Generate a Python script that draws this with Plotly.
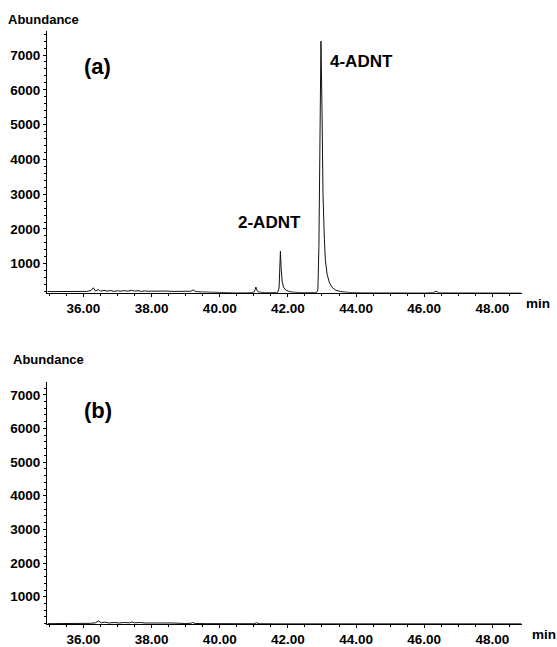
import plotly.graph_objects as go

# ---- data: chromatogram (a) ----
time_a = [34.95, 35.3, 35.6, 35.9, 36.1, 36.22, 36.29, 36.35, 36.40, 36.45, 36.50, 36.6, 36.7, 36.8,
          36.9, 37.0, 37.1, 37.2, 37.3, 37.4, 37.5, 37.6, 37.7, 37.8, 37.9, 38.0, 38.2, 38.4, 38.6,
          38.8, 39.0, 39.15, 39.22, 39.3, 39.45, 39.7, 40.0, 40.4, 40.8, 41.00, 41.04, 41.06, 41.09,
          41.13, 41.3, 41.5, 41.70, 41.74, 41.76, 41.78, 41.80, 41.83, 41.87, 41.93, 42.02, 42.12,
          42.4, 42.7, 42.84, 42.88, 42.91, 42.94, 42.97, 43.00, 43.03, 43.07, 43.10, 43.15, 43.22,
          43.30, 43.40, 43.55, 43.8, 44.2, 44.8, 45.4, 46.0, 46.25, 46.35, 46.45, 47.0, 47.6, 48.2, 48.85]
abund_a = [200, 195, 200, 195, 205, 230, 310, 215, 240, 260, 210, 235, 215, 230,
           205, 225, 210, 230, 210, 235, 215, 225, 205, 220, 210, 215, 205, 215, 205,
           210, 200, 210, 250, 200, 190, 180, 170, 165, 165, 180, 260, 330, 240,
           190, 170, 165, 175, 300, 900, 1360, 900, 500, 330, 250, 210, 185,
           170, 165, 175, 250, 1500, 4500, 7400, 5500, 3000, 1700, 1100, 700, 450,
           320, 240, 200, 175, 165, 160, 160, 160, 170, 205, 165, 160, 158, 158, 158]

# ---- data: chromatogram (b) ----
time_b = [34.95, 35.4, 35.9, 36.2, 36.35, 36.44, 36.52, 36.62, 36.75, 36.9, 37.05, 37.2, 37.35,
          37.41, 37.5, 37.65, 37.8, 38.0, 38.3, 38.6, 39.0, 39.15, 39.2, 39.28, 39.6, 40.0, 40.5,
          41.0, 41.08, 41.16, 41.6, 42.2, 43.0, 44.0, 45.0, 46.2, 46.3, 46.4, 47.2, 48.0, 48.85]
abund_b = [200, 200, 205, 210, 225, 280, 225, 245, 220, 235, 220, 235, 225,
           250, 225, 235, 220, 225, 215, 220, 205, 210, 235, 205, 200, 198, 196,
           198, 225, 198, 195, 195, 195, 195, 195, 195, 210, 195, 195, 195, 195]

y_ticks = [1000, 2000, 3000, 4000, 5000, 6000, 7000]
x_ticks = [36, 38, 40, 42, 44, 46, 48]
x_labels = ["36.00", "38.00", "40.00", "42.00", "44.00", "46.00", "48.00"]
peak_labels = ["2-ADNT", "4-ADNT"]
peak_pos_x = [41.47, 44.16]
peak_pos_y = [2190, 6800]

W, H = 557, 647
FONT = "Liberation Sans, Arial, Helvetica, sans-serif"

fig = go.Figure()
fig.add_trace(go.Scatter(x=time_a, y=abund_a, mode="lines", line=dict(color="#111", width=1),
                         xaxis="x", yaxis="y", hoverinfo="skip", showlegend=False))
fig.add_trace(go.Scatter(x=time_b, y=abund_b, mode="lines", line=dict(color="#111", width=1),
                         xaxis="x2", yaxis="y2", hoverinfo="skip", showlegend=False))

x_dom = [47 / W, 522 / W]
ya_dom = [1 - 296 / H, 1 - 31 / H]
yb_dom = [1 - 631 / H, 1 - 386 / H]

tickfont = dict(family=FONT, size=13.5, color="black")

def xaxis(anchor):
    return dict(domain=x_dom, range=[34.93, 48.87], anchor=anchor, showgrid=False, zeroline=False,
                showline=True, linecolor="black", linewidth=1, ticks="outside", ticklen=3,
                tickcolor="black", tickvals=x_ticks, ticktext=["<b>%s</b>" % t for t in x_labels],
                tickfont=tickfont,
                minor=dict(dtick=0.5, ticklen=2, ticks="outside", tickcolor="black", showgrid=False))

def yaxis(anchor, dom, rng):
    return dict(domain=dom, range=rng, anchor=anchor, showgrid=False, zeroline=False,
                showline=True, linecolor="black", linewidth=1, ticks="outside", ticklen=3,
                tickcolor="black", tickvals=y_ticks, ticktext=["<b>%d</b>" % v for v in y_ticks],
                tickfont=tickfont, ticklabelstandoff=0,
                minor=dict(dtick=200, ticklen=2, ticks="outside", tickcolor="black", showgrid=False))

fig.update_layout(
    width=W, height=H, margin=dict(l=0, r=0, t=0, b=0),
    plot_bgcolor="white", paper_bgcolor="white",
    xaxis=xaxis("y"), yaxis=yaxis("x", ya_dom, [165, 7700]),
    xaxis2=xaxis("y2"), yaxis2=yaxis("x2", yb_dom, [185, 7385]),
)

bold = lambda s: dict(family=FONT, size=s, color="black", weight="bold")
ann = []
ann.append(dict(text="<b>Abundance</b>", x=6 / W, y=1 - 20 / H, xref="paper", yref="paper", xanchor="left",
                yanchor="middle", showarrow=False, font=bold(13)))
ann.append(dict(text="<b>Abundance</b>", x=11 / W, y=1 - 363 / H, xref="paper", yref="paper", xanchor="left",
                yanchor="middle", showarrow=False, font=bold(13)))
ann.append(dict(text="<b>min</b>", x=538 / W, y=1 - 307 / H, xref="paper", yref="paper", xanchor="center",
                yanchor="middle", showarrow=False, font=bold(13.5)))
ann.append(dict(text="<b>min</b>", x=544 / W, y=1 - 641 / H, xref="paper", yref="paper", xanchor="center",
                yanchor="middle", showarrow=False, font=bold(13.5)))
ann.append(dict(text="<b>(a)</b>", x=36.40, y=6660, xref="x", yref="y", showarrow=False, font=bold(22)))
ann.append(dict(text="<b>(b)</b>", x=36.43, y=6540, xref="x2", yref="y2", showarrow=False, font=bold(22)))
for lbl, px, py in zip(peak_labels, peak_pos_x, peak_pos_y):
    ann.append(dict(text="<b>%s</b>" % lbl, x=px, y=py, xref="x", yref="y", showarrow=False, font=bold(17)))
fig.update_layout(annotations=ann)

fig.write_html("out.html")
